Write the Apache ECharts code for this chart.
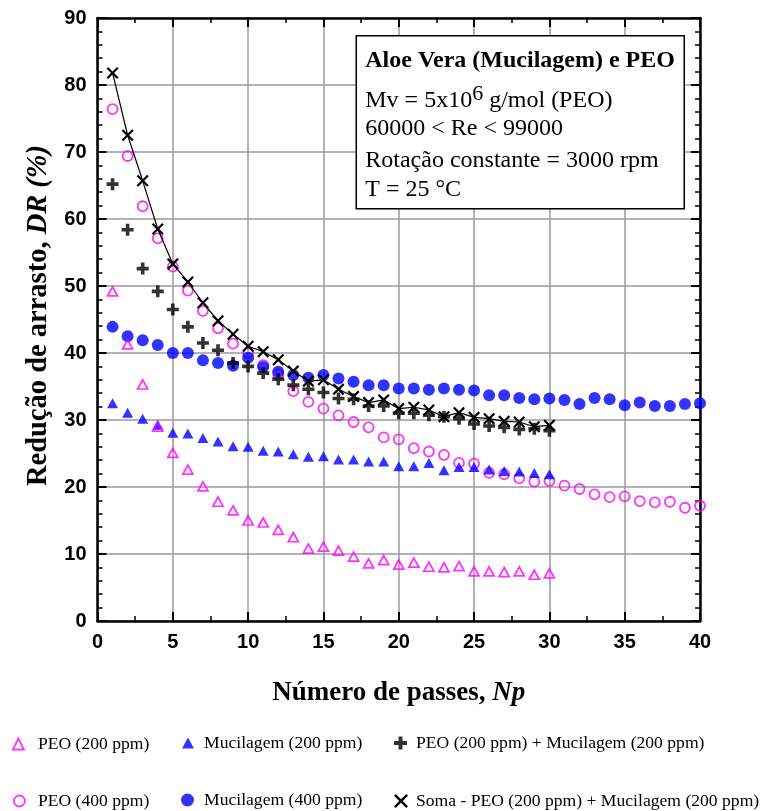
<!DOCTYPE html>
<html>
<head>
<meta charset="utf-8">
<script src="https://cdn.jsdelivr.net/npm/echarts@6/dist/echarts.min.js"></script>
<style>
html,body{margin:0;padding:0;background:#fff;}
#chart{width:762px;height:811px;}
</style>
</head>
<body>
<div id="chart"></div>
<script>
// ---- data ----
const passes30 = [1,2,3,4,5,6,7,8,9,10,11,12,13,14,15,16,17,18,19,20,21,22,23,24,25,26,27,28,29,30];
const passes40 = [1,2,3,4,5,6,7,8,9,10,11,12,13,14,15,16,17,18,19,20,21,22,23,24,25,26,27,28,29,30,31,32,33,34,35,36,37,38,39,40];

const peo200 = [49.2,41.3,35.3,29.0,25.1,22.6,20.1,17.8,16.5,15.0,14.7,13.6,12.5,10.8,11.1,10.5,9.6,8.6,9.1,8.4,8.7,8.1,8.0,8.2,7.4,7.4,7.3,7.4,6.9,7.1];
const muc200 = [32.5,31.1,30.2,29.3,28.1,28.0,27.3,26.8,26.1,26.0,25.4,25.3,24.9,24.5,24.6,24.1,24.1,23.8,23.8,23.1,23.1,23.6,22.5,23.0,23.0,22.6,22.4,22.3,22.1,21.9];
const peoMuc200 = [65.2,58.4,52.6,49.2,46.5,43.9,41.5,40.4,38.5,38.0,37.0,36.1,35.2,34.6,34.1,33.2,33.1,32.1,32.1,31.0,31.0,30.7,30.5,30.2,29.4,29.1,28.9,28.6,28.7,28.4];
const peo400 = [76.4,69.4,61.9,57.1,52.9,49.3,46.3,43.7,41.4,40.0,38.2,36.8,34.3,32.7,31.7,30.7,29.7,28.9,27.4,27.1,25.8,25.3,24.8,23.6,23.5,22.1,21.9,21.3,20.8,20.9,20.2,19.7,18.9,18.5,18.6,17.9,17.7,17.8,16.9,17.2];
const muc400 = [43.9,42.5,41.9,41.2,40.0,40.0,38.9,38.5,38.1,39.3,37.9,37.2,36.7,36.3,36.7,36.2,35.7,35.2,35.2,34.7,34.7,34.5,34.7,34.5,34.4,33.7,33.7,33.3,33.1,33.2,33.0,32.4,33.3,33.1,32.2,32.6,32.1,32.1,32.4,32.5];
const soma = [81.8,72.5,65.7,58.5,53.3,50.6,47.5,44.8,42.8,41.0,40.2,39.0,37.3,35.8,36.0,34.6,33.5,32.6,33.0,31.7,31.9,31.5,30.5,31.1,30.4,30.2,29.8,29.7,29.0,29.2];

const seriesNames = ['PEO (200 ppm)','Mucilagem (200 ppm)','PEO (200 ppm) + Mucilagem (200 ppm)','PEO (400 ppm)','Mucilagem (400 ppm)','Soma - PEO (200 ppm) + Mucilagem (200 ppm)'];
const xTicks = {min:0, max:40, interval:5};
const yTicks = {min:0, max:90, interval:10};

// ---- build ----
const pair = (xs, ys) => ys.map((v,i) => [xs[i], v]);
const MAG = '#ff00ff', BLUE = '#0000ff', BLK = '#000000';
const PLUS = 'path://M3.5,0H6.5V3.5H10V6.5H6.5V10H3.5V6.5H0V3.5H3.5Z';
const XMARK = 'path://M0,1.3L1.3,0L5,3.7L8.7,0L10,1.3L6.3,5L10,8.7L8.7,10L5,6.3L1.3,10L0,8.7L3.7,5Z';
const SERIF = '"Liberation Serif","Times New Roman",serif';
const SANS = '"Liberation Sans",Arial,sans-serif';

const hollowMag = {color:'rgba(0,0,0,0)', borderColor:MAG, borderWidth:1.8};

const chart = echarts.init(document.getElementById('chart'), null, {renderer:'canvas'});

function axisCommon(showLabel){
  return {
    axisLine:{show:true, onZero:false, lineStyle:{color:BLK, width:2.5}},
    axisTick:{show:true, inside:true, length:9, lineStyle:{color:BLK, width:2}},
    axisLabel:{show:showLabel, fontFamily:SANS, fontWeight:'bold', fontSize:20, color:BLK, margin:11},
  };
}

function legendItem(name, left, top, icon, style, w, h, pad){
  return {
    data:[{name:name, icon:icon}],
    left:left, top:top, orient:'horizontal',
    itemWidth:w, itemHeight:h,
    itemStyle:style,
    textStyle:{fontFamily:SERIF, fontSize:17.6, color:BLK, padding:[0,0,0,pad]},
    selectedMode:false
  };
}

const option = {
  animation:false,
  backgroundColor:'#ffffff',
  grid:{left:97.5, right:62, top:18, bottom:190, containLabel:false},
  xAxis:[
    Object.assign({
      type:'value', min:xTicks.min, max:xTicks.max, interval:xTicks.interval, position:'bottom',
      splitLine:{show:true, lineStyle:{color:'#9a9a9a', width:1.5}},
      minorSplitLine:{show:false},
      name:'{a|Número de passes, }{b|Np}', nameLocation:'middle', nameGap:59,
      nameTextStyle:{rich:{
        a:{fontFamily:SERIF, fontWeight:'bold', fontSize:27, color:BLK},
        b:{fontFamily:SERIF, fontWeight:'bold', fontStyle:'italic', fontSize:27, color:BLK}
      }}
    }, axisCommon(true), {minorTick:{show:true, splitNumber:2, length:5, lineStyle:{color:BLK, width:1.5}}}),
    Object.assign({
      type:'value', min:xTicks.min, max:xTicks.max, interval:xTicks.interval, position:'top',
      splitLine:{show:false}
    }, axisCommon(false), {minorTick:{show:true, splitNumber:2, length:5, lineStyle:{color:BLK, width:1.5}}})
  ],
  yAxis:[
    Object.assign({
      type:'value', min:yTicks.min, max:yTicks.max, interval:yTicks.interval, position:'left',
      splitLine:{show:true, lineStyle:{color:'#9a9a9a', width:1.5}},
      name:'{a|Redução de arrasto, }{b|DR (%)}', nameLocation:'middle', nameGap:40, nameRotate:90,
      nameTextStyle:{padding:[0,0,0,8], rich:{
        a:{fontFamily:SERIF, fontWeight:'bold', fontSize:28.5, color:BLK},
        b:{fontFamily:SERIF, fontWeight:'bold', fontStyle:'italic', fontSize:28.5, color:BLK}
      }}
    }, axisCommon(true), {minorTick:{show:true, splitNumber:5, length:5, lineStyle:{color:BLK, width:1.5}}}),
    Object.assign({
      type:'value', min:yTicks.min, max:yTicks.max, interval:yTicks.interval, position:'right',
      splitLine:{show:false}
    }, axisCommon(false), {minorTick:{show:true, splitNumber:5, length:5, lineStyle:{color:BLK, width:1.5}}})
  ],
  legend:[
    legendItem(seriesNames[0], 7, 730, 'triangle', {color:'rgba(0,0,0,0)', borderColor:MAG, borderWidth:1.8}, 11, 11, 9),
    legendItem(seriesNames[1], 177, 729, 'triangle', {color:BLUE, borderWidth:0}, 12, 11, 5),
    legendItem(seriesNames[2], 389, 729, PLUS, {color:BLK, borderWidth:0}, 13, 13, 4),
    legendItem(seriesNames[3], 8, 787, 'circle', {color:'rgba(0,0,0,0)', borderColor:MAG, borderWidth:1.8}, 11, 13, 8),
    legendItem(seriesNames[4], 176, 786, 'circle', {color:BLUE, borderWidth:0}, 13, 15, 5),
    legendItem(seriesNames[5], 389, 787, XMARK, {color:BLK, borderWidth:0}, 14, 14, 3)
  ],
  series:[
    {name:seriesNames[3], type:'scatter', data:pair(passes40, peo400), symbol:'circle', symbolSize:10, itemStyle:hollowMag, z:2},
    {name:seriesNames[4], type:'scatter', data:pair(passes40, muc400), symbol:'circle', symbolSize:12, itemStyle:{color:BLUE}, z:3},
    {name:seriesNames[1], type:'scatter', data:pair(passes30, muc200), symbol:'triangle', symbolSize:[11,10], itemStyle:{color:BLUE}, z:4},
    {name:seriesNames[0], type:'scatter', data:pair(passes30, peo200), symbol:'triangle', symbolSize:[10,9], itemStyle:hollowMag, z:4},
    {name:seriesNames[2], type:'scatter', data:pair(passes30, peoMuc200), symbol:PLUS, symbolSize:12, itemStyle:{color:BLK}, z:5},
    {name:seriesNames[5], type:'line', data:pair(passes30, soma), symbol:XMARK, symbolSize:12, showAllSymbol:true,
      itemStyle:{color:BLK, borderWidth:0}, lineStyle:{color:BLK, width:1.2}, z:6}
  ],
  graphic:[
    {type:'group', left:355.5, top:35, z:100, children:[
      {type:'rect', z:100, shape:{x:0, y:0, width:328, height:173}, style:{fill:'#ffffff', stroke:BLK, lineWidth:1.5}},
      {type:'text', z:101, x:9, y:25, style:{text:'Aloe Vera (Mucilagem) e PEO', font:'bold 24px '+SERIF, fill:BLK, textVerticalAlign:'middle'}},
      {type:'text', z:101, x:9, y:62, style:{
        text:'{n|Mv = 5x10}{s|6}{n| g/mol (PEO)}', fill:BLK, textVerticalAlign:'middle',
        rich:{n:{font:'24px '+SERIF, fill:BLK, verticalAlign:'bottom', lineHeight:30},
              s:{font:'22px '+SERIF, fill:BLK, verticalAlign:'top', lineHeight:30}}}},
      {type:'text', z:101, x:9, y:93, style:{text:'60000 < Re < 99000', font:'24px '+SERIF, fill:BLK, textVerticalAlign:'middle'}},
      {type:'text', z:101, x:9, y:125, style:{text:'Rotação constante = 3000 rpm', font:'24px '+SERIF, fill:BLK, textVerticalAlign:'middle'}},
      {type:'text', z:101, x:9, y:154, style:{text:'T = 25 °C', font:'24px '+SERIF, fill:BLK, textVerticalAlign:'middle'}}
    ]}
  ]
};
chart.setOption(option);
</script>
</body>
</html>
